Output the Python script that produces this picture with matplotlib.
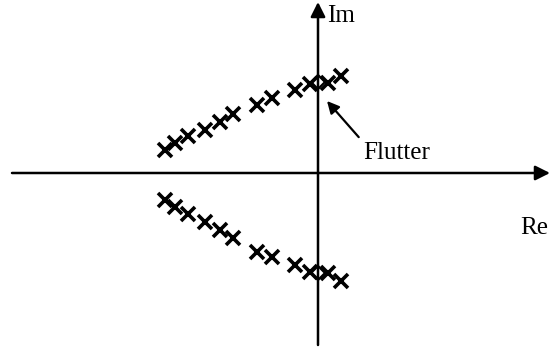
import numpy as np
import matplotlib.pyplot as plt

plt.rcParams['font.family'] = ['Liberation Serif', 'DejaVu Serif']

# eigenvalue loci (real, imaginary parts) for increasing speed
upper_re = [-153, -143, -130, -113, -98, -85, -61, -46, -23, -8, 10, 23]
upper_im = [23, 30, 37, 43, 51, 59, 68, 75, 83, 89, 90, 97]
lower_re = [-153, -143, -130, -113, -98, -85, -61, -46, -23, -8, 10, 23]
lower_im = [-27, -34, -41, -49, -57, -65, -79, -84, -92, -99, -100, -108]

# flutter crossing points on the imaginary axis
flutter_re = [0, 0]
flutter_im = [91, -100]

fig = plt.figure(figsize=(5.5, 3.5), dpi=100)
ax = fig.add_axes([0, 0, 1, 1])
ax.set_xlim(-318, 232)
ax.set_ylim(-177, 173)
ax.axis('off')

# axes with arrow heads
ax.annotate('', xy=(232, 0), xytext=(-306, 0), annotation_clip=False,
            arrowprops=dict(arrowstyle='-|>', lw=1.8, color='black',
                            mutation_scale=22, shrinkA=0, shrinkB=0))
ax.annotate('', xy=(0, 171), xytext=(0, -172), annotation_clip=False,
            arrowprops=dict(arrowstyle='-|>', lw=1.8, color='black',
                            mutation_scale=22, shrinkA=0, shrinkB=0))

ax.plot(upper_re, upper_im, 'x', color='black', ms=10.5, mew=2.6)
ax.plot(lower_re, lower_im, 'x', color='black', ms=10.5, mew=2.6)
ax.plot(flutter_re, flutter_im, 'D', mfc='white', mec='black', ms=7, mew=1.6,
        zorder=1)

ax.text(9, 157, 'Im', fontsize=18, va='center', ha='left')
ax.text(230, -55, 'Re', fontsize=18, va='center', ha='right')

ax.annotate('Flutter', xy=(9, 72), xytext=(45, 20), fontsize=18,
            va='center', ha='left',
            arrowprops=dict(arrowstyle='-|>', lw=1.6, color='black',
                            mutation_scale=18, shrinkA=2, shrinkB=0,
                            relpos=(0, 1)))

fig.savefig('out.png', dpi=100)
